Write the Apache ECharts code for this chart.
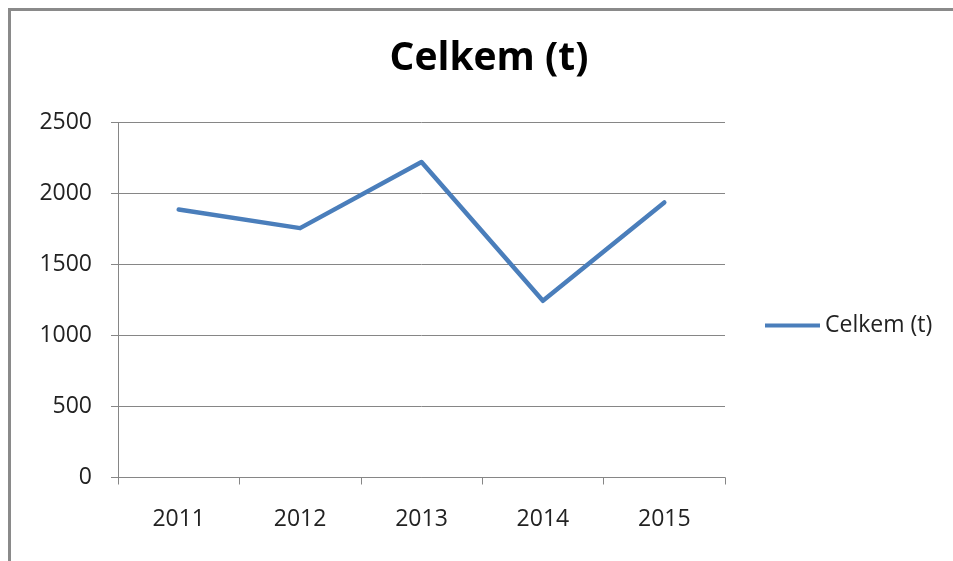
<!DOCTYPE html>
<html>
<head>
<meta charset="utf-8">
<script src="https://cdn.jsdelivr.net/npm/echarts@6/dist/echarts.min.js"></script>
<style>
html,body{margin:0;padding:0;background:#fff;}
#chart{width:953px;height:561px;}
</style>
</head>
<body>
<div id="chart"></div>
<script>
const categories = ['2011', '2012', '2013', '2014', '2015'];
const seriesName = 'Celkem (t)';
const values = [1887, 1756, 2222, 1244, 1937];
const titleText = 'Celkem (t)';

const chart = echarts.init(document.getElementById('chart'), null, {renderer: 'canvas'});
const font = '"Open Sans", "Noto Sans", sans-serif';
chart.setOption({
  backgroundColor: '#ffffff',
  animation: false,
  graphic: [{
    type: 'rect',
    shape: {x: 9.5, y: 9.5, width: 1000, height: 600},
    style: {fill: 'none', stroke: '#8a8a8a', lineWidth: 3},
    silent: true,
    z: -1
  }],
  title: {
    text: titleText,
    left: 484,
    textAlign: 'center',
    top: 34,
    textStyle: {fontFamily: font, fontSize: 39, fontWeight: 'bold', color: '#000'}
  },
  legend: {
    data: [seriesName],
    left: 765,
    top: 314,
    padding: 0,
    icon: 'rect',
    itemWidth: 55,
    itemHeight: 4,
    itemGap: 5,
    textStyle: {fontFamily: font, fontSize: 23, color: '#222', padding: [0, 0, 0, 0]}
  },
  grid: {left: 118, right: 228, top: 122.5, bottom: 83.5, containLabel: false},
  xAxis: {
    type: 'category',
    data: categories,
    boundaryGap: true,
    axisLine: {lineStyle: {color: '#868686', width: 1}},
    axisTick: {show: true, alignWithLabel: false, length: 7, lineStyle: {color: '#868686'}},
    axisLabel: {margin: 30, fontFamily: font, fontSize: 23, color: '#222'},
    splitLine: {show: false}
  },
  yAxis: {
    type: 'value',
    min: 0,
    max: 2500,
    interval: 500,
    axisLine: {show: true, lineStyle: {color: '#868686', width: 1}},
    axisTick: {show: true, length: 7, lineStyle: {color: '#868686'}},
    axisLabel: {margin: 26, fontFamily: font, fontSize: 23, color: '#222', formatter: function (v) { return String(v); }},
    splitLine: {show: true, lineStyle: {color: '#868686', width: 1}}
  },
  series: [{
    name: seriesName,
    type: 'line',
    data: values,
    symbol: 'none',
    showSymbol: false,
    itemStyle: {color: '#4A7EBB'},
    lineStyle: {color: '#4A7EBB', width: 4.5, cap: 'round', join: 'round'}
  }]
});
</script>
</body>
</html>
